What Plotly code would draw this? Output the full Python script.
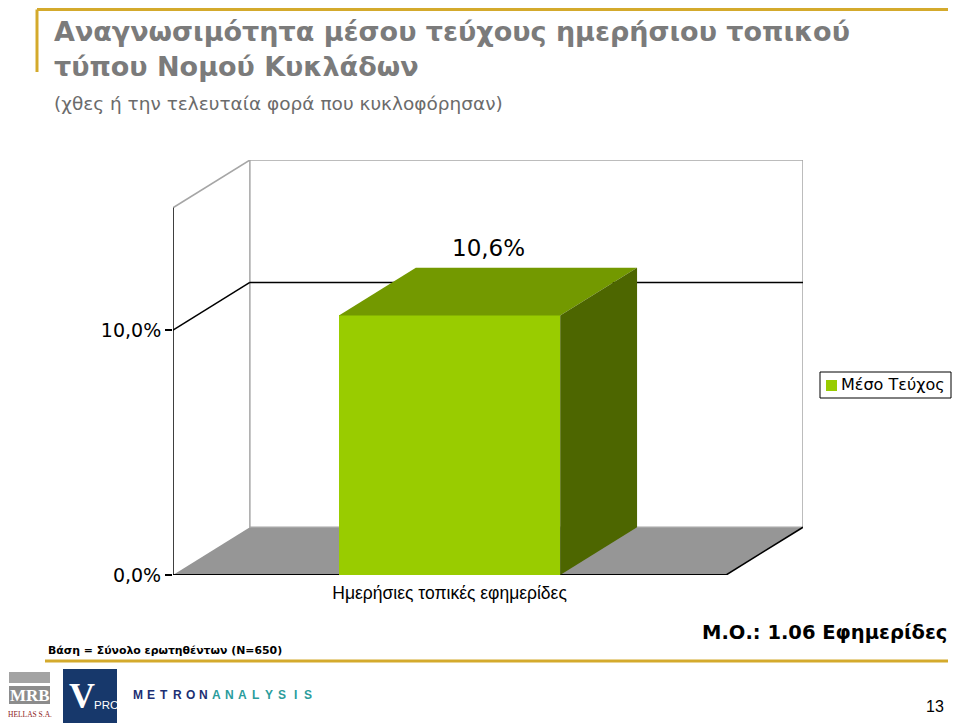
"""3D-style column chart: readership of the local daily press (Cyclades)"""

import plotly.graph_objects as go

# data
categories = ["Ημερήσιες τοπικές εφημερίδες"]
values = [0.106]
series_name = "Μέσο Τεύχος"
tick_values = [0.0, 0.1]
y_max = 0.15

title_lines = ["Αναγνωσιμότητα μέσου τεύχους ημερήσιου τοπικού",
               "τύπου Νομού Κυκλάδων"]
subtitle = "(χθες ή την τελευταία φορά που κυκλοφόρησαν)"
base_note = "Βάση = Σύνολο ερωτηθέντων (N=650)"
mean_note = "Μ.Ο.: 1.06 Εφημερίδες"
page_no = "13"

# page / 3d look
W, H = 960, 723
PAD = 8                      # the html body margin shifts the figure by this much
FW, FH = W - PAD, H - PAD    # figure size
DX = 0.139     # depth offset, category units
DY = 0.0195    # depth offset, value units
BAR_W = 0.4

FRONT = "#99cc00"
TOP = "#739900"
SIDE = "#4d6600"
FLOOR = "#969696"
WALL = "#a6a6a6"
GOLD = "#d4aa2c"
CHART_FONT = "Verdana, DejaVu Sans, sans-serif"
PAGE_FONT = "Tahoma, DejaVu Sans, sans-serif"
ARIAL = "Arial, Liberation Sans, sans-serif"


def px(x, y):
    """pixel position on the page -> paper coords"""
    return (x - PAD) / FW, 1 - (y - PAD) / FH


n = len(categories)
x_left, x_right = -0.5, n - 0.5

fig = go.Figure()

# front faces
fig.add_trace(go.Bar(
    x=list(range(n)), y=values, width=BAR_W, name=series_name,
    marker=dict(color=FRONT, line=dict(width=0)), hoverinfo="skip",
    showlegend=False
))

# top and side faces of each column
for i, v in enumerate(values):
    l, r = i - BAR_W / 2, i + BAR_W / 2
    fig.add_trace(go.Scatter(
        x=[l, l + DX, r + DX, r, l], y=[v, v + DY, v + DY, v, v],
        fill="toself", fillcolor=TOP, mode="lines", line=dict(width=0),
        showlegend=False, hoverinfo="skip"
    ))
    fig.add_trace(go.Scatter(
        x=[r, r, r + DX, r + DX, r], y=[0, v, v + DY, DY, 0],
        fill="toself", fillcolor=SIDE, mode="lines", line=dict(width=0),
        showlegend=False, hoverinfo="skip"
    ))
    fig.add_annotation(
        x=i + DX / 2, y=v + DY, yanchor="bottom", yshift=5, showarrow=False,
        text=f"{v * 100:.1f}%".replace(".", ","),
        font=dict(family=CHART_FONT, size=23, color="black")
    )

# walls and floor
shapes = []


def seg(x0, y0, x1, y1, color="black", width=1):
    shapes.append(dict(type="line", xref="x", yref="y", x0=x0, y0=y0, x1=x1, y1=y1,
                       line=dict(color=color, width=width), layer="below"))


shapes.append(dict(
    type="path", xref="x", yref="y", layer="below", fillcolor=FLOOR, line=dict(width=0),
    path=f"M {x_left},0 L {x_left + DX},{DY} L {x_right + DX},{DY} L {x_right},0 Z"
))
shapes.append(dict(type="rect", xref="x", yref="y", layer="below",
                   x0=x_left + DX, x1=x_right + DX, y0=DY, y1=y_max + DY,
                   line=dict(color=WALL, width=1.5)))
seg(x_left, y_max, x_left + DX, y_max + DY, WALL, 1.5)
for t in tick_values[1:]:
    seg(x_left, t, x_left + DX, t + DY, width=1.5)
    seg(x_left + DX, t + DY, x_right + DX, t + DY, width=1.5)
seg(x_left, 0, x_left, y_max, width=1.5)
seg(x_left, 0, x_right, 0, width=2)
seg(x_right, 0, x_right + DX, DY, width=1.5)
shapes.append(dict(type="line", xref="x", yref="y", ysizemode="pixel", yanchor=0,
                   x0=x_right, x1=x_right, y0=0, y1=-7, line=dict(color="black", width=1.5)))


# page decoration
def page_line(x0, y0, x1, y1, color=GOLD, width=2):
    a, b = px(x0, y0)
    c, d = px(x1, y1)
    shapes.append(dict(type="line", xref="paper", yref="paper", x0=a, y0=b, x1=c, y1=d,
                       line=dict(color=color, width=width)))


def page_rect(x0, y0, x1, y1, fill, line_color=None):
    a, b = px(x0, y0)
    c, d = px(x1, y1)
    shapes.append(dict(type="rect", xref="paper", yref="paper", x0=a, y0=b, x1=c, y1=d,
                       fillcolor=fill,
                       line=dict(width=1 if line_color else 0, color=line_color or fill)))


page_line(37, 9.5, 948, 9.5, width=3)
page_line(37, 9.5, 37, 72, width=3)
page_line(45, 661, 948, 661, width=3)
page_rect(9, 672, 50, 683, "#a3a3a3")
page_rect(9, 686, 50, 704, "#8c8c8c")
page_rect(63, 669, 117, 723, "#17386b")

# legend box (drawn by hand to match the original's compact layout)
page_rect(820, 372, 951, 398, "white", "black")
page_rect(826, 380, 837, 391, FRONT)

fig.update_layout(shapes=shapes)


def text(x, y, s, size, color="black", weight="normal", family=PAGE_FONT,
         xanchor="left"):
    a, b = px(x, y)
    fig.add_annotation(x=a, y=b, xref="paper", yref="paper", text=s, showarrow=False,
                       xanchor=xanchor, yanchor="middle", borderpad=0,
                       font=dict(family=family, size=size, color=color, weight=weight))


text(53, 32, title_lines[0], 27, "#7b7b7b", "bold")
text(53, 67, title_lines[1], 27, "#7b7b7b", "bold")
text(53, 103, subtitle, 18.5, "#6b6b6b")
text(948, 632, mean_note, 19.5, "black", "bold", xanchor="right")
text(47, 650, base_note, 10.9, "black", "bold")
text(945, 706, page_no, 16, family=ARIAL, xanchor="right")
text(840, 385, series_name, 16, family=CHART_FONT)

# logos
text(29.5, 695, "MRB", 17, "white", "bold", "Liberation Serif, serif", xanchor="center")
text(29.5, 714, "HELLAS S.A.", 7.5, "#8b1a1a", family="Liberation Serif, serif",
     xanchor="center")
text(82, 696, "V", 36, "white", "bold", "Liberation Serif, serif", xanchor="center")
text(106, 705, "PRC", 11.5, "white", family=ARIAL, xanchor="center")
logo = "METRONANALYSIS"
for k, ch in enumerate(logo):
    color = "#1c2f73" if k < 6 else "#2a9c9c"
    text(138 + k * 13.1, 695, ch, 12, color, "bold", ARIAL, xanchor="center")

fig.update_layout(
    width=FW, height=FH,
    margin=dict(l=0, r=0, t=0, b=0, autoexpand=False),
    paper_bgcolor="white", plot_bgcolor="white",
    separators=",.",
    bargap=0,
    showlegend=False,
    xaxis=dict(
        domain=[(173 - PAD) / FW, (803 - PAD) / FW], range=[x_left, x_right + DX],
        tickvals=list(range(n)), ticktext=categories, ticks="",
        showgrid=False, zeroline=False, showline=False, fixedrange=True,
        ticklabelstandoff=5,
        tickfont=dict(family=ARIAL, size=17.5, color="black")
    ),
    yaxis=dict(
        domain=[1 - (575 - PAD) / FH, 1 - (160 - PAD) / FH], range=[0, y_max + DY],
        tickvals=tick_values, tickformat=".1%", ticks="outside", ticklen=7,
        tickcolor="black", tickwidth=1.5,
        showgrid=False, zeroline=False, showline=False, fixedrange=True,
        tickfont=dict(family=CHART_FONT, size=19, color="black")
    ),
)

fig.write_html("out.html")
